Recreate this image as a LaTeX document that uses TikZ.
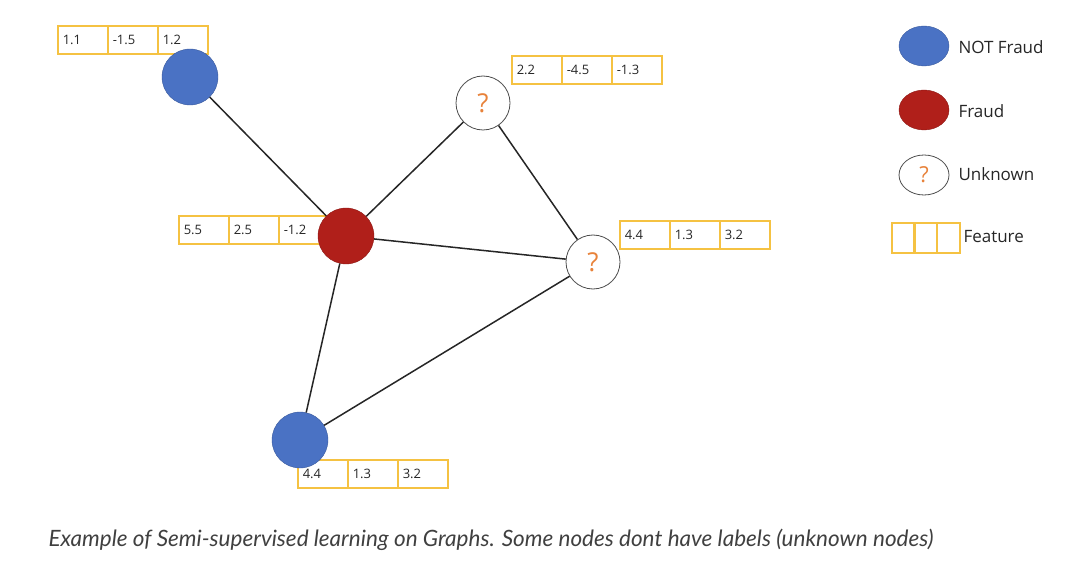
\documentclass[tikz,border=0pt]{standalone}
\usepackage{fontspec}
\usetikzlibrary{shapes.geometric}
\setmainfont{Open Sans}
\newfontfamily\capfont{Lato}
\definecolor{nblue}{HTML}{4A72C4}
\definecolor{nred}{HTML}{B01F1A}
\definecolor{qorange}{HTML}{E8823A}
\definecolor{fbox}{HTML}{F5C242}
\begin{document}
\begin{tikzpicture}[x=1pt,y=-1pt,
 blue/.style={circle,fill=nblue,draw=nblue!80!black,minimum size=56pt,inner sep=0},
 red/.style={circle,fill=nred,draw=nred!80!black,minimum size=56pt,inner sep=0},
 unk/.style={circle,fill=white,draw=black!70,line width=0.8pt,minimum size=54pt,inner sep=0,text=qorange,font=\fontsize{26}{26}\selectfont},
 edge/.style={draw=black!85,line width=1.5pt},
 cell/.style={draw=fbox,line width=1.5pt,minimum width=50pt,minimum height=28pt,inner sep=0,font=\fontsize{13}{13}\selectfont,text=black!85,anchor=west,text width=40pt,align=left},
 lcell/.style={draw=fbox,line width=1.5pt,minimum width=23pt,minimum height=30pt,inner sep=0,anchor=west},
 leg/.style={font=\fontsize{17}{17}\selectfont,text=black!85,anchor=west}]
\useasboundingbox (0,0) rectangle (1074,564);
\foreach \n/\x/\y/\a/\b/\c in {f1/57/40/1.1/-1.5/1.2, f2/511/70/2.2/-4.5/-1.3, f3/178/230/5.5/2.5/-1.2, f4/619/235/4.4/1.3/3.2, f5/297/474/4.4/1.3/3.2}{
 \node[cell] (\n a) at (\x,\y) {\a};
 \node[cell] (\n b) at (\x+50,\y) {\b};
 \node[cell] (\n c) at (\x+100,\y) {\c};
}
\node[blue] (b1) at (190,77) {};
\node[red] (r) at (346,236) {};
\node[unk] (u1) at (483,103) {?};
\node[unk] (u2) at (593,262) {?};
\node[blue] (b2) at (300,440) {};
\draw[edge] (b1)--(r) (r)--(u1) (u1)--(u2) (r)--(u2) (r)--(b2) (b2)--(u2);
\node[ellipse,fill=nblue,draw=nblue!80!black,minimum width=50pt,minimum height=40pt] (l1) at (924,46) {};
\node[ellipse,fill=nred,draw=nred!80!black,minimum width=50pt,minimum height=40pt] (l2) at (924,110) {};
\node[ellipse,fill=white,draw=black!70,line width=0.8pt,minimum width=50pt,minimum height=40pt,text=qorange,font=\fontsize{22}{22}\selectfont] (l3) at (924,175) {?};
\node[lcell] (l4a) at (891,238) {};
\node[lcell] (l4b) at (913,238) {};
\node[lcell] (l4c) at (936,238) {};
\node[leg] (t1) at (955,47) {NOT Fraud};
\node[leg] (t2) at (955,111) {Fraud};
\node[leg] (t3) at (955,174) {Unknown};
\node[leg] (t4) at (960,237) {Feature};
\node[font=\capfont\itshape\fontsize{22.5}{22}\selectfont,text=black!75,anchor=west] (cap) at (45,540) {Example of Semi-supervised learning on Graphs. Some nodes dont have labels (unknown nodes)};
\end{tikzpicture}
\end{document}
